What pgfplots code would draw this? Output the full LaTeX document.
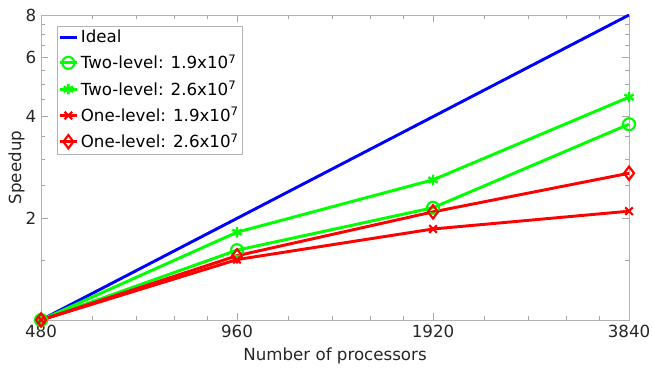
\documentclass[border=0pt]{standalone}
\usepackage{fontspec}
\setmainfont{DejaVu Sans}
\usepackage{pgfplots}
\pgfplotsset{compat=1.18}
\begin{document}
\begin{tikzpicture}
\begin{axis}[
  at={(0,0)}, anchor=south west,
  scale only axis, width=441pt, height=228.75pt,
  xmode=log, ymode=log,
  xmin=480, xmax=3840, ymin=1, ymax=8,
  xtick={480,960,1920,3840}, xticklabels={480,960,1920,3840},
  ytick={2,4,6,8}, yticklabels={2,4,6,8},
  minor xtick={576,672,768,864,1152,1344,1536,1728,2304,2688,3072,3456},
  minor ytick={1.5,2.5,3,3.5,4.5,5,5.5,6.5,7,7.5},
  tick align=inside,
  major tick length=5pt, minor tick length=3pt,
  every tick/.style={gray!70, line width=0.5pt},
  axis line style={gray!60, line width=0.6pt},
  /pgf/number format/assume math mode=true,
  tick label style={font=\fontsize{12.5}{14}\selectfont, text=black!85},
  label style={font=\fontsize{12.5}{14}\selectfont, text=black!85},
  xlabel={Number of processors},
  ylabel={Speedup},
  xlabel style={yshift=-1pt},
  ylabel style={yshift=-6pt},
  legend cell align=left,
  legend style={font=\fontsize{12.5}{14}\selectfont, draw=gray!60, line width=0.5pt,
    inner sep=1pt, row sep=3.5pt, at={(0.027,0.965)}, anchor=north west,
    /tikz/every even column/.append style={column sep=0pt}},
  legend image code/.code={\draw[mark repeat=2,mark phase=2] plot coordinates {(0cm,0cm)(0.22cm,0cm)(0.44cm,0cm)};},
  every axis plot/.append style={line width=2.2pt},
]
\addplot[blue, no marks] coordinates {(480,1) (960,2) (1920,4) (3840,8)};
\addlegendentry{Ideal}
\addplot[green, mark=o, mark size=4.5pt, mark options={line width=1.6pt}] coordinates {(480,1) (960,1.61) (1920,2.15) (3840,3.80)};
\addlegendentry{Two-level: 1.9x10\textsuperscript{7}}
\addplot[green, mark=asterisk, mark size=4pt, mark options={line width=1.8pt}] coordinates {(480,1) (960,1.82) (1920,2.60) (3840,4.57)};
\addlegendentry{Two-level: 2.6x10\textsuperscript{7}}
\addplot[red, mark=x, mark size=4pt, mark options={line width=1.6pt}] coordinates {(480,1) (960,1.51) (1920,1.86) (3840,2.10)};
\addlegendentry{One-level: 1.9x10\textsuperscript{7}}
\addplot[red, mark=diamond, mark size=5pt, mark options={line width=1.6pt}] coordinates {(480,1) (960,1.55) (1920,2.09) (3840,2.72)};
\addlegendentry{One-level: 2.6x10\textsuperscript{7}}
\end{axis}
\pgfresetboundingbox
\path (-30.75pt,-35.25pt) rectangle (458.25pt,240pt);
\end{tikzpicture}
\end{document}
